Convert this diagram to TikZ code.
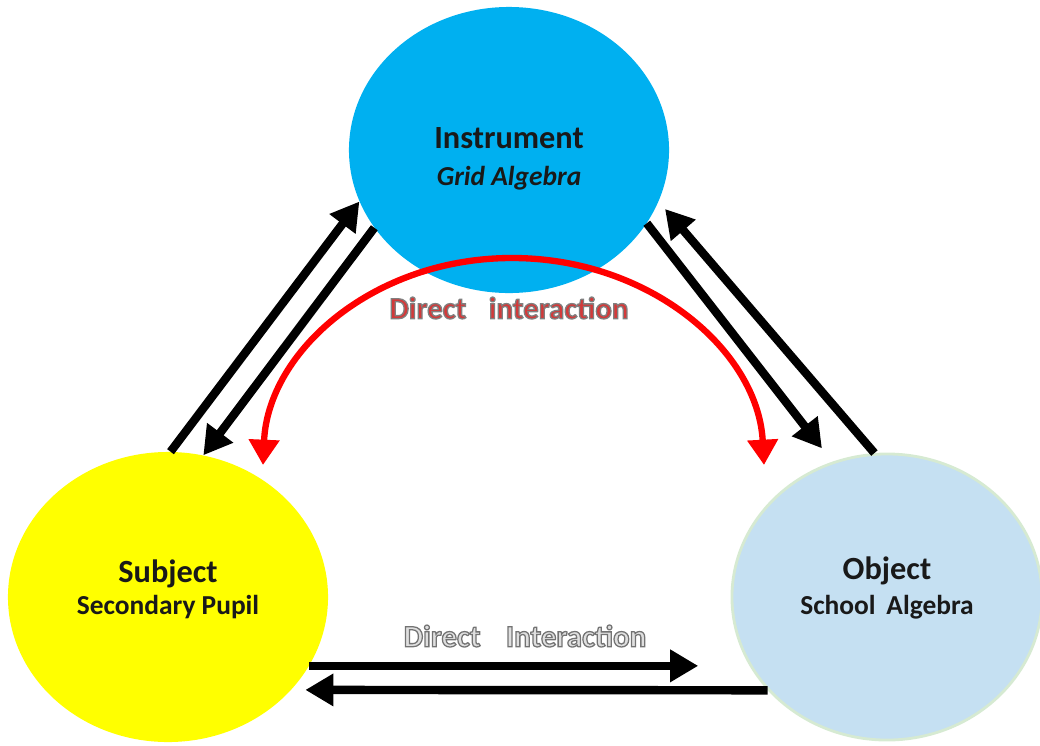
\documentclass[tikz,border=0pt]{standalone}
\usepackage{fontspec}
\setmainfont{Carlito}
\usetikzlibrary{shapes.geometric,arrows.meta}
\definecolor{instrblue}{HTML}{00B0F0}
\definecolor{pupilyellow}{HTML}{FFFF00}
\definecolor{algebrablue}{HTML}{C5E0F2}
\definecolor{algebraedge}{HTML}{D6EAD2}
\definecolor{labelred}{HTML}{D23A3A}
\newcommand{\ttl}[1]{{\fontsize{23}{28}\selectfont\bfseries #1}}
\newcommand{\subttl}[1]{{\fontsize{19.5}{24}\selectfont\bfseries #1}}
\newcommand{\rimtext}[3]{\textcolor{#2}{\special{pdf:literal direct 2 Tr 0.9 w #1 G}#3\special{pdf:literal direct 0 Tr}}}
\tikzset{
    vertex/.style={ellipse, inner sep=0pt, minimum width=8cm, minimum height=7.2cm, text=black!90},
    link/.style={line width=6pt, -{Triangle[length=20pt,width=22pt]}},
    redlink/.style={line width=4.5pt, red, {Triangle[length=18pt,width=21pt]}-{Triangle[length=18pt,width=21pt]}},
}
\begin{document}
\begin{tikzpicture}[x=0.025cm, y=-0.025cm]
    \useasboundingbox (0,0) rectangle (1040,745);

    \node[vertex, fill=instrblue, minimum height=7.15cm] (instr) at (509,150) {\raisebox{-8.9pt}[0pt][0pt]{\begin{tabular}{@{}c@{}}\ttl{Instrument}\\[9.5pt]\subttl{\itshape Grid Algebra}\end{tabular}}};
    \node[vertex, fill=pupilyellow, minimum height=7.25cm] (subj) at (168,597) {\raisebox{2.5pt}[0pt][0pt]{\begin{tabular}{@{}c@{}}\ttl{Subject}\\[5.5pt]\subttl{Secondary Pupil}\end{tabular}}};
    \node[vertex, fill=algebrablue, draw=algebraedge, line width=2pt, minimum width=7.75cm, minimum height=7.15cm] (obj) at (887,597) {\raisebox{3.9pt}[0pt][0pt]{\begin{tabular}{@{}c@{}}\ttl{Object}\\[7.5pt]\subttl{School\, Algebra}\end{tabular}}};

    \draw[link] (subj.89) -- (instr.199);
    \draw[link] (instr.210) -- (subj.76);
    \draw[link, shorten >=12pt] (instr.332) -- (obj.112);
    \draw[link, shorten >=7pt] (obj.95) -- (instr.341);
    \draw[link, shorten >=23pt] (subj.334) -- (subj.334 -| obj.west);
    \draw[link, shorten >=10pt] (obj.218) -- (subj.323);

    \coordinate (rl) at (263,465);
    \coordinate (rr) at (764,465);
    \draw[redlink] (rl) .. controls (268,351) and (374,258) .. (512,258) .. controls (650,258) and (758,351) .. (rr);

    \node[font=\fontsize{22}{26}\selectfont\bfseries] (toplabel) at (509,308) {\rimtext{0.5}{labelred}{Direct\hspace{16pt}interaction}};
    \node[font=\fontsize{22}{26}\selectfont\bfseries] (botlabel) at (525,636) {\rimtext{0.45}{gray!25}{Direct\hspace{18pt}Interaction}};
\end{tikzpicture}
\end{document}
